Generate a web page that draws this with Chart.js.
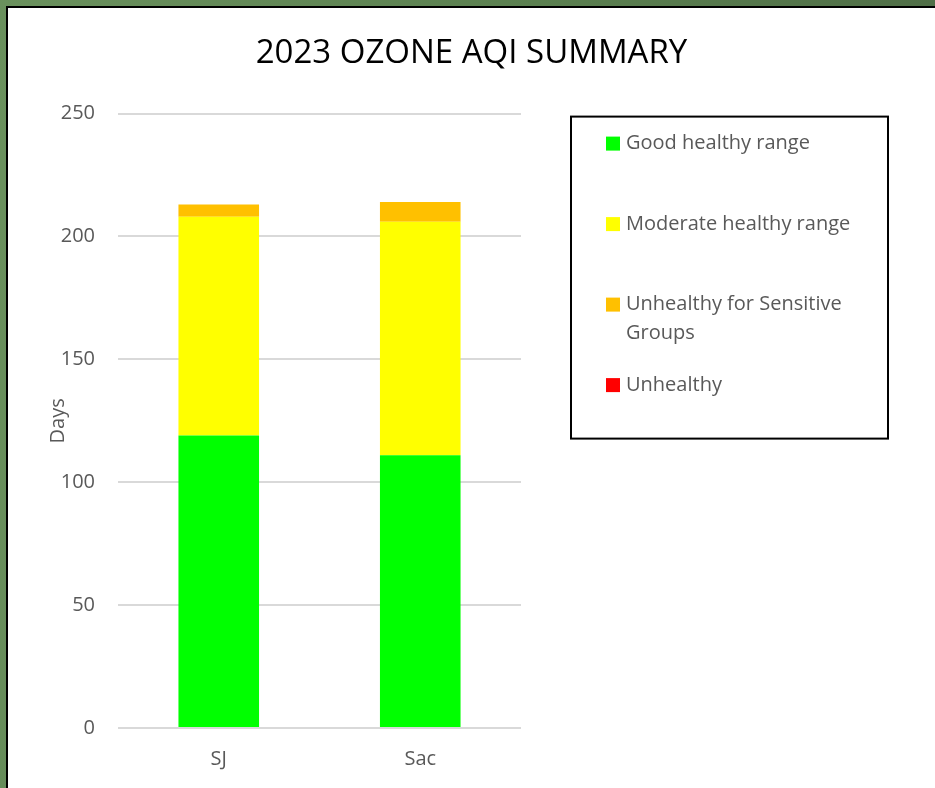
<!DOCTYPE html>
<html>
<head>
<meta charset="utf-8">
<script src="https://cdn.jsdelivr.net/npm/chart.js@4"></script>
<style>
    body { margin: 0; background: #fff; }
    .frame {
        width: 935px; height: 788px; box-sizing: border-box; padding: 6px 0 0 6px;
        background: linear-gradient(100deg, #6a915d 0%, #5b8050 50%, #4c6944 100%);
    }
    .sheet {
        width: 929px; height: 782px; box-sizing: border-box;
        border-top: 2px solid #000; border-left: 2px solid #000; background: #fff;
    }
    canvas { display: block; }
</style>
</head>
<body>
<div class="frame"><div class="sheet"><canvas id="myChart" width="927" height="780"></canvas></div></div>
<script>
const stations = ['SJ', 'Sac'];
const goodDays = [119, 111];
const moderateDays = [89, 95];
const sensitiveDays = [5, 8];
const unhealthyDays = [0, 0];
const yMax = 250;
const yStep = 50;

const ctx = document.getElementById('myChart');
Chart.defaults.font.family = '"Open Sans", sans-serif';

// split a legend label into lines that fit maxW
function wrapText(c, text, maxW) {
    const words = text.split(' ');
    const lines = [];
    let line = '';
    words.forEach(w => {
        const test = line ? line + ' ' + w : w;
        if (c.measureText(test).width > maxW && line) {
            lines.push(line);
            line = w;
        } else {
            line = test;
        }
    });
    lines.push(line);
    return lines;
}

// legend panel on the right, added as a layout box so the title stays centred on the whole canvas
const legendPanel = {
    id: 'legendPanel',
    beforeInit(chart) {
        const box = {
            position: 'right', weight: 0, fullSize: false, options: {},
            left: 0, top: 0, right: 0, bottom: 0, width: 0, height: 0,
            isHorizontal() { return false; },
            update(maxWidth, maxHeight) { this.width = 414; this.height = maxHeight; },
            draw() {
                const c = chart.ctx;
                const x0 = chart.chartArea.right + 50;
                const y0 = chart.chartArea.top + 3;
                c.save();
                c.lineWidth = 2;
                c.strokeStyle = '#000';
                c.strokeRect(x0, y0, 317, 322);
                c.font = '20px "Open Sans"';
                c.textBaseline = 'middle';
                c.textAlign = 'left';
                chart.data.datasets.forEach((ds, i) => {
                    const cy = y0 + 27 + i * 80.5;
                    c.fillStyle = ds.backgroundColor;
                    c.fillRect(x0 + 35, cy - 7, 14, 14);
                    c.fillStyle = '#595959';
                    wrapText(c, ds.label, 240).forEach((ln, j) => {
                        c.fillText(ln, x0 + 55, cy + j * 29);
                    });
                });
                c.restore();
            }
        };
        Chart.layouts.addBox(chart, box);
    }
};

const myChart = new Chart(ctx, {
    type: 'bar',
    data: {
        labels: stations,
        datasets: [{
            label: 'Good healthy range',
            data: goodDays,
            backgroundColor: '#00ff00'
        }, {
            label: 'Moderate healthy range',
            data: moderateDays,
            backgroundColor: '#ffff00'
        }, {
            label: 'Unhealthy for Sensitive Groups',
            data: sensitiveDays,
            backgroundColor: '#ffc000'
        }, {
            label: 'Unhealthy',
            data: unhealthyDays,
            backgroundColor: '#ff0000'
        }]
    },
    options: {
        responsive: false,
        animation: false,
        devicePixelRatio: 1,
        barPercentage: 0.4,
        categoryPercentage: 1.0,
        plugins: {
            legend: { display: false },
            tooltip: { enabled: false },
            title: {
                display: true,
                text: '2023 OZONE AQI SUMMARY',
                color: '#000',
                font: { size: 33, weight: 'normal' },
                padding: { top: 26, bottom: 40 }
            }
        },
        scales: {
            x: {
                stacked: true,
                grid: { display: false },
                border: { display: false },
                ticks: { color: '#595959', font: { size: 20 }, padding: 11 },
                afterFit(scale) { scale.height = 60; }
            },
            y: {
                stacked: true,
                min: 0,
                max: yMax,
                ticks: { stepSize: yStep, color: '#595959', font: { size: 20 }, padding: 23 },
                grid: { color: '#d9d9d9', lineWidth: 2, drawTicks: false },
                border: { display: false },
                title: {
                    display: true,
                    text: 'Days',
                    color: '#595959',
                    font: { size: 20 },
                    padding: { top: 38, bottom: 0 }
                },
                afterFit(scale) { scale.width = 110; }
            }
        }
    },
    plugins: [legendPanel]
});
</script>
</body>
</html>
